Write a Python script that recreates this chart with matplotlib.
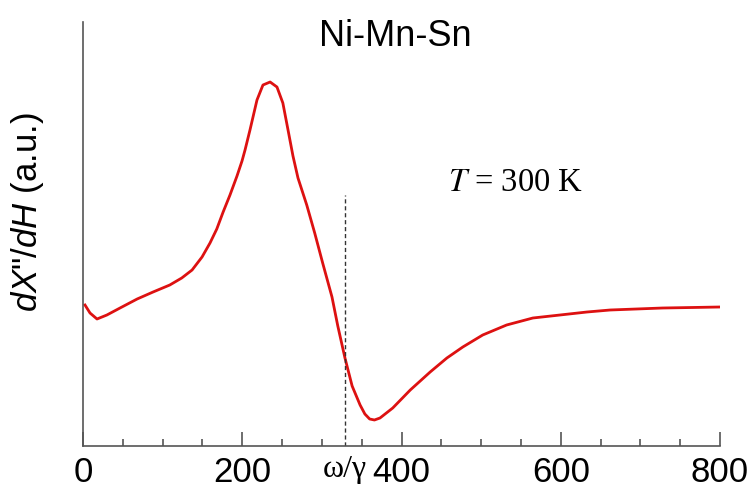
import matplotlib
matplotlib.use("Agg")
import matplotlib.pyplot as plt
from matplotlib.ticker import MultipleLocator

plt.rcParams['mathtext.fontset'] = 'custom'
plt.rcParams['mathtext.rm'] = 'Liberation Sans'
plt.rcParams['mathtext.it'] = 'Liberation Sans:italic'

# Field (x) and derivative signal (arbitrary units)
field = [2.5, 8.8, 17.6, 30, 46.5, 68, 88, 109, 124, 137, 149.5, 159.5, 168, 176, 184.6,
         193.4, 199.7, 203.5, 209.7, 218.5, 226, 235, 243.6, 251, 257.5, 263.7, 270,
         281, 291, 301, 312.7, 320, 329, 338, 348, 354, 360, 366, 373, 389, 411, 436,
         457, 477, 502, 532, 565, 599, 633, 662, 695, 728, 765, 800]
signal = [141, 133, 127, 131, 138, 147, 154, 161, 168, 176, 189, 203, 217, 234, 251,
          270, 285, 296, 316, 346, 361, 364, 359, 343, 316, 290, 268,
          241, 213, 183, 149, 120, 88, 60, 41, 32, 27, 26, 28, 38, 56, 74,
          88, 99, 111, 121, 128, 131, 134, 136, 137, 138, 138.5, 139]
x_ticks = [0, 200, 400, 600, 800]
resonance = 329

W, H = 753, 493
fig = plt.figure(figsize=(W/100, H/100), dpi=100)
ax = fig.add_axes([83/W, 1-446/H, (720-83)/W, (446-22)/H])

ax.plot(field, signal, color='#dd1111', lw=2.0, solid_joinstyle='round')
ax.plot([resonance, resonance], [0, 251], color='#333333', lw=1.0, ls=(0, (3, 2)))

ax.set_xlim(0, 800)
ax.set_ylim(0, 424)
for s in ['top', 'right']:
    ax.spines[s].set_visible(False)
for s in ['left', 'bottom']:
    ax.spines[s].set_color('#555555')
    ax.spines[s].set_linewidth(1.2)
ax.set_yticks([])
ax.set_xticks(x_ticks)
ax.xaxis.set_minor_locator(MultipleLocator(50))
ax.tick_params(axis='x', which='major', direction='in', length=10, width=1.2,
               color='#555555', labelsize=25, pad=7)
ax.tick_params(axis='x', which='minor', direction='in', length=5, width=1.2, color='#555555')
for lab in ax.get_xticklabels():
    lab.set_fontfamily('Liberation Sans')

fig.text(395/W, 1-37/H, 'Ni-Mn-Sn', fontsize=26, family='Liberation Sans',
         ha='center', va='center')
fig.text(28/W, 1-212/H, r'$dX$"/$dH$ (a.u.)', fontsize=25, family='Liberation Sans',
         rotation=90, ha='center', va='center', math_fontfamily='custom')
fig.text(516/W, 1-183/H, r'$T$ = 300 K', fontsize=23.5, family='Liberation Serif',
         ha='center', va='center', math_fontfamily='stix')
fig.text(345/W, 1-469/H, r'ω/γ', fontsize=23, family='Liberation Serif',
         ha='center', va='center')

fig.savefig('out.png', dpi=100)
